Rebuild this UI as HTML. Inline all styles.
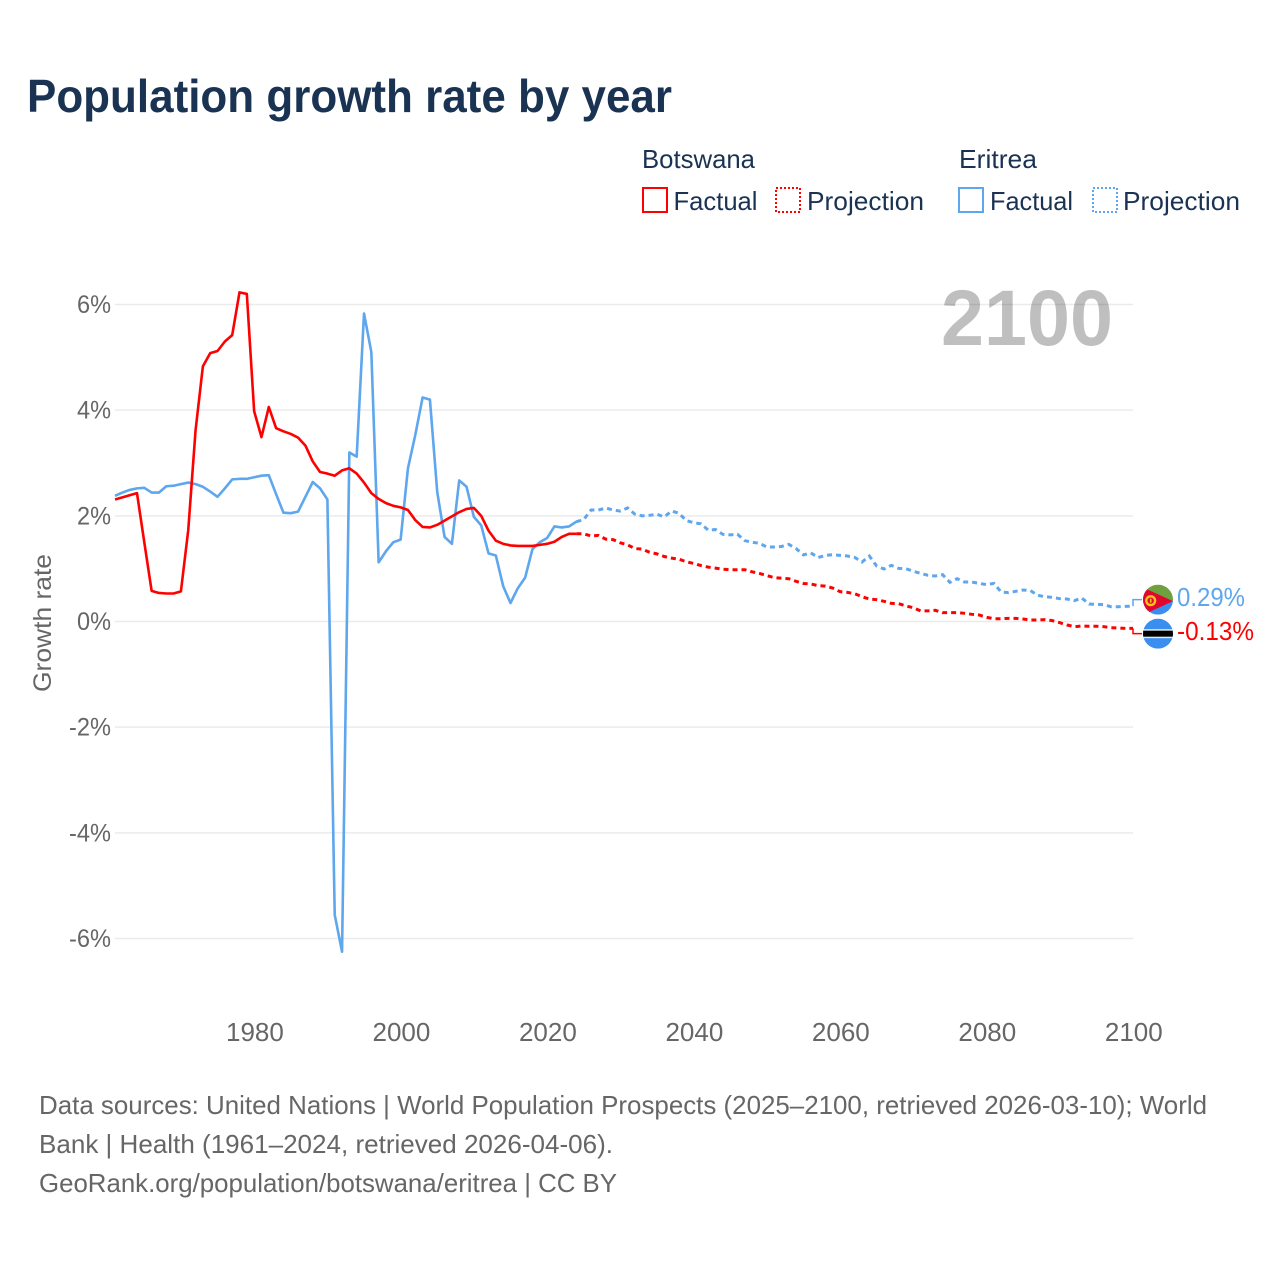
<!DOCTYPE html>
<html lang="en">
<head>
<meta charset="utf-8">
<title>Population growth rate by year</title>
<style>
html,body{margin:0;padding:0;background:#fff;width:1280px;height:1280px;overflow:hidden}
svg{display:block}
text{font-family:"Liberation Sans",sans-serif}
</style>
</head>
<body>
<svg id="chart" xmlns="http://www.w3.org/2000/svg" width="1280" height="1280" viewBox="0 0 1280 1280">
  <text x="27" y="112" font-size="46" font-weight="700" fill="#1a3353" textLength="645" lengthAdjust="spacingAndGlyphs">Population growth rate by year</text>

  <g font-size="26" fill="#1a3353">
    <text x="642" y="168" textLength="113" lengthAdjust="spacingAndGlyphs">Botswana</text>
    <text x="959" y="168" textLength="78" lengthAdjust="spacingAndGlyphs">Eritrea</text>
    <rect x="643" y="188" width="24" height="24" fill="none" stroke="#ff0000" stroke-width="2"/>
    <text x="673.5" y="210" textLength="84" lengthAdjust="spacingAndGlyphs">Factual</text>
    <rect x="776" y="188" width="24" height="24" fill="none" stroke="#ff0000" stroke-width="2" stroke-dasharray="2 2"/>
    <text x="807" y="210" textLength="117" lengthAdjust="spacingAndGlyphs">Projection</text>
    <rect x="959" y="188" width="24" height="24" fill="none" stroke="#5ea6ee" stroke-width="2"/>
    <text x="990" y="210" textLength="83" lengthAdjust="spacingAndGlyphs">Factual</text>
    <rect x="1093" y="188" width="24" height="24" fill="none" stroke="#5ea6ee" stroke-width="2" stroke-dasharray="2 2"/>
    <text x="1123" y="210" textLength="117" lengthAdjust="spacingAndGlyphs">Projection</text>
  </g>

  <g id="grid"></g>
  <g id="yTicks" font-size="25" fill="#666"></g>
  <g id="xTicks" font-size="26" fill="#666"></g>
  <text transform="translate(51 692) rotate(-90)" font-size="25" fill="#666" textLength="138" lengthAdjust="spacingAndGlyphs">Growth rate</text>

  <text x="941" y="345" font-size="79" font-weight="700" fill="#000" fill-opacity="0.25" textLength="172" lengthAdjust="spacingAndGlyphs">2100</text>

  <g id="series"></g>
  <g id="ends"></g>

  <defs>
    <clipPath id="flagClipE"><circle id="clipCircleE" r="15"/></clipPath>
    <clipPath id="flagClipB"><circle id="clipCircleB" r="15"/></clipPath>
  </defs>
  <g id="flagE">
    <g clip-path="url(#flagClipE)">
      <rect x="-15" y="-15" width="30" height="16" fill="#6fa03f"/>
      <rect x="-15" y="1" width="30" height="14" fill="#3a8ef0"/>
      <polygon points="-19,-14 15,1.5 -19,17" fill="#e2062f"/>
      <circle cx="-7.3" cy="1" r="4.4" fill="none" stroke="#f5c518" stroke-width="2.4"/>
      <rect x="-8.1" y="-1" width="1.6" height="4" fill="#f5c518"/>
    </g>
  </g>
  <g id="flagB">
    <g clip-path="url(#flagClipB)">
      <rect x="-15" y="-15" width="30" height="30" fill="#3a8ef0"/>
      <rect x="-15" y="-4.5" width="30" height="9" fill="#e8e8e8"/>
      <rect x="-15" y="-3" width="30" height="6" fill="#000"/>
    </g>
  </g>

  <g font-size="26" fill="#666">
    <text x="39" y="1114" textLength="1168" lengthAdjust="spacingAndGlyphs">Data sources: United Nations | World Population Prospects (2025–2100, retrieved 2026-03-10); World</text>
    <text x="39" y="1153" textLength="574" lengthAdjust="spacingAndGlyphs">Bank | Health (1961–2024, retrieved 2026-04-06).</text>
    <text x="39" y="1192" textLength="578" lengthAdjust="spacingAndGlyphs">GeoRank.org/population/botswana/eritrea | CC BY</text>
  </g>
</svg>
<script>
const firstYear = 1961;
const lastFactualYear = 2024;
const yTickValues = [6, 4, 2, 0, -2, -4, -6];
const xTickYears = [1980, 2000, 2020, 2040, 2060, 2080, 2100];

const botswanaFactual = [2.31,2.35,2.39,2.43,1.5,0.58,0.54,0.53,0.53,0.57,1.73,3.62,4.83,5.08,5.12,5.3,5.42,6.23,6.2,3.98,3.49,4.06,3.66,3.6,3.55,3.48,3.33,3.03,2.83,2.8,2.76,2.86,2.9,2.8,2.63,2.43,2.32,2.24,2.19,2.16,2.11,1.92,1.79,1.78,1.83,1.91,1.99,2.07,2.13,2.15,2.0,1.72,1.53,1.47,1.44,1.43,1.43,1.43,1.45,1.47,1.51,1.6,1.66,1.66];
const eritreaFactual = [2.38,2.44,2.49,2.52,2.53,2.44,2.44,2.56,2.57,2.6,2.63,2.6,2.55,2.46,2.36,2.52,2.69,2.7,2.7,2.73,2.76,2.77,2.41,2.06,2.05,2.08,2.36,2.64,2.52,2.31,-5.55,-6.25,3.2,3.12,5.83,5.1,1.12,1.33,1.5,1.55,2.9,3.53,4.24,4.2,2.45,1.6,1.47,2.67,2.55,1.98,1.82,1.29,1.25,0.67,0.35,0.63,0.83,1.37,1.5,1.58,1.8,1.78,1.8,1.89];
const botswanaProjection = [1.66,1.62,1.63,1.56,1.55,1.49,1.45,1.38,1.37,1.31,1.28,1.23,1.2,1.18,1.13,1.1,1.06,1.03,1.01,0.99,0.98,0.98,0.98,0.94,0.91,0.87,0.83,0.82,0.81,0.76,0.72,0.71,0.68,0.67,0.634,0.565,0.552,0.527,0.47,0.426,0.413,0.382,0.344,0.337,0.294,0.262,0.2,0.2,0.212,0.167,0.167,0.167,0.155,0.136,0.123,0.079,0.053,0.053,0.06,0.06,0.047,0.028,0.028,0.035,0.016,-0.022,-0.066,-0.098,-0.085,-0.091,-0.091,-0.098,-0.117,-0.123,-0.13,-0.13];
const eritreaProjection = [1.93,2.11,2.11,2.15,2.11,2.09,2.15,2.03,2.0,2.01,2.03,1.98,2.09,2.05,1.91,1.87,1.85,1.73,1.74,1.65,1.64,1.65,1.53,1.5,1.48,1.41,1.41,1.42,1.46,1.38,1.26,1.3,1.21,1.25,1.265,1.252,1.24,1.214,1.126,1.24,1.05,0.994,1.063,1.006,1.0,0.95,0.912,0.874,0.861,0.887,0.741,0.81,0.747,0.747,0.722,0.697,0.722,0.558,0.546,0.571,0.596,0.584,0.495,0.47,0.457,0.432,0.426,0.394,0.445,0.331,0.325,0.318,0.28,0.28,0.287,0.29];

const NS = 'http://www.w3.org/2000/svg';
const RED = '#ff0000';
const BLUE = '#5ea6ee';
function xScale(year) { return 115 + (year - firstYear) * (1133 - 115) / (2100 - firstYear); }
function yScale(value) { return 621.5 - value * 52.83; }
function make(tag, parent) {
  const el = document.createElementNS(NS, tag);
  document.getElementById(parent).appendChild(el);
  return el;
}
function pointsFrom(values, startYear) {
  return values.map(function (v, i) { return xScale(startYear + i).toFixed(2) + ',' + yScale(v).toFixed(2); }).join(' ');
}

yTickValues.forEach(function (t) {
  const line = make('line', 'grid');
  
  
  line.setAttribute('x1', 115);
  line.setAttribute('x2', 1133);
  line.setAttribute('y1', yScale(t));
  line.setAttribute('y2', yScale(t));
  line.setAttribute('stroke', '#ebebeb');
  line.setAttribute('stroke-width', '1.5');
  const label = make('text', 'yTicks');
  
  
  label.setAttribute('x', 111);
  label.setAttribute('y', yScale(t) + 8.5);
  label.setAttribute('text-anchor', 'end');
  label.setAttribute('textLength', t < 0 ? 42 : 34);
  label.setAttribute('lengthAdjust', 'spacingAndGlyphs');
  label.textContent = t + '%';
});

xTickYears.forEach(function (y) {
  const label = make('text', 'xTicks');
  
  
  label.setAttribute('x', xScale(y) + 0.8);
  label.setAttribute('y', 1041);
  label.setAttribute('text-anchor', 'middle');
  label.textContent = y;
});

function drawFactual(values, color, width, name) {
  const line = make('polyline', 'series');
  
  
  line.setAttribute('points', pointsFrom(values, firstYear));
  line.setAttribute('fill', 'none');
  line.setAttribute('stroke', color);
  line.setAttribute('stroke-width', width);
  line.setAttribute('stroke-linejoin', 'round');
}
function drawProjection(factual, values, color, width, name) {
  const line = make('polyline', 'series');
  
  
  const joined = [factual[factual.length - 1]].concat(values);
  line.setAttribute('points', pointsFrom(joined, lastFactualYear));
  line.setAttribute('fill', 'none');
  line.setAttribute('stroke', color);
  line.setAttribute('stroke-width', width);
  line.setAttribute('stroke-dasharray', '5 4');
}
drawFactual(eritreaFactual, BLUE, 2.6, 'eritrea-factual-line');
drawProjection(eritreaFactual, eritreaProjection, BLUE, 3, 'eritrea-projection-line');
drawFactual(botswanaFactual, RED, 2.6, 'botswana-factual-line');
drawProjection(botswanaFactual, botswanaProjection, RED, 3, 'botswana-projection-line');

const lastE = eritreaProjection[eritreaProjection.length - 1];
const lastB = botswanaProjection[botswanaProjection.length - 1];
const midY = (yScale(lastE) + yScale(lastB)) / 2 - 0.6;
const gap = Math.max(34, yScale(lastB) - yScale(lastE));
const labelYE = midY - gap / 2;
const labelYB = midY + gap / 2;

function drawEnd(value, labelY, color, lineName, textName, textWidth) {
  const endX = xScale(2100);
  const link = make('polyline', 'ends');
  
  
  link.setAttribute('points', endX + ',' + yScale(value) + ' ' + endX + ',' + labelY + ' ' + (endX + 9) + ',' + labelY);
  link.setAttribute('fill', 'none');
  link.setAttribute('stroke', color);
  link.setAttribute('stroke-width', '1.5');
  const text = make('text', 'ends');
  
  
  text.setAttribute('x', 1177);
  text.setAttribute('y', labelY + 6.2);
  text.setAttribute('font-size', '26');
  text.setAttribute('fill', color);
  text.setAttribute('textLength', textWidth);
  text.setAttribute('lengthAdjust', 'spacingAndGlyphs');
  text.textContent = value.toFixed(2) + '%';
}
drawEnd(lastE, labelYE, BLUE, 'eritrea-end-connector', 'eritrea-end-value', 68);
drawEnd(lastB, labelYB, RED, 'botswana-end-connector', 'botswana-end-value', 77);

document.getElementById('flagE').setAttribute('transform', 'translate(1158 ' + labelYE + ')');
document.getElementById('flagB').setAttribute('transform', 'translate(1158 ' + labelYB + ')');
</script>
</body>
</html>
